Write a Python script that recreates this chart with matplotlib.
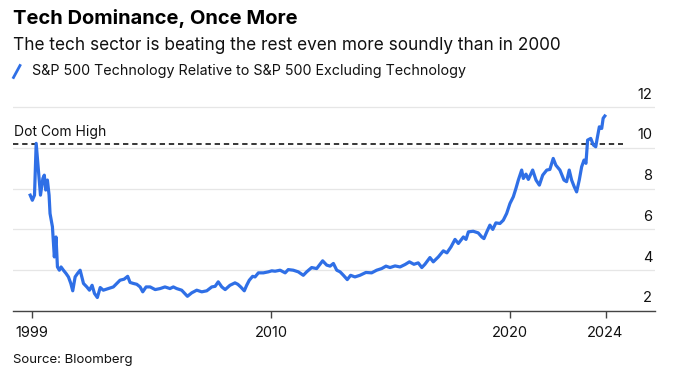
import matplotlib.pyplot as plt
from matplotlib.lines import Line2D
from matplotlib.transforms import ScaledTranslation

plt.rcParams['font.family'] = ['Inter', 'DejaVu Sans']

# decimal years and relative strength ratio
years = [
    1999.92, 2000.01, 2000.10, 2000.17, 2000.24, 2000.35, 2000.45, 2000.51, 2000.57, 2000.64,
    2000.71, 2000.75, 2000.85, 2000.93, 2001.00, 2001.06, 2001.14, 2001.21, 2001.31, 2001.42,
    2001.52, 2001.62, 2001.70, 2001.80, 2001.90, 2002.01, 2002.08, 2002.15, 2002.29, 2002.40,
    2002.51, 2002.61, 2002.73, 2002.85, 2002.98, 2003.19, 2003.40, 2003.68, 2003.85, 2004.00,
    2004.10, 2004.24, 2004.38, 2004.52, 2004.63, 2004.77, 2004.94, 2005.15, 2005.36, 2005.56,
    2005.77, 2005.91, 2006.05, 2006.26, 2006.50, 2006.68, 2006.89, 2007.10, 2007.31, 2007.52,
    2007.66, 2007.79, 2007.94, 2008.08, 2008.28, 2008.49, 2008.61, 2008.73, 2008.88, 2008.98,
    2009.09, 2009.23, 2009.33, 2009.47, 2009.68, 2009.89, 2010.03, 2010.17, 2010.38, 2010.59,
    2010.72, 2010.93, 2011.14, 2011.35, 2011.49, 2011.70, 2011.91, 2012.02, 2012.16, 2012.33,
    2012.47, 2012.61, 2012.75, 2012.89, 2013.03, 2013.19, 2013.33, 2013.51, 2013.72, 2013.97,
    2014.21, 2014.42, 2014.63, 2014.81, 2014.98, 2015.19, 2015.40, 2015.61, 2015.79, 2015.98,
    2016.16, 2016.31, 2016.44, 2016.65, 2016.79, 2017.00, 2017.21, 2017.36, 2017.53, 2017.70,
    2017.84, 2018.05, 2018.16, 2018.26, 2018.46, 2018.67, 2018.82, 2018.91, 2019.03, 2019.16,
    2019.28, 2019.41, 2019.58, 2019.72, 2019.86, 2020.00, 2020.14, 2020.25, 2020.35, 2020.49,
    2020.56, 2020.67, 2020.77, 2020.95, 2021.09, 2021.23, 2021.37, 2021.54, 2021.67, 2021.81,
    2021.92, 2022.09, 2022.26, 2022.37, 2022.48, 2022.58, 2022.69, 2022.79, 2022.90, 2023.00,
    2023.10, 2023.18, 2023.25, 2023.38, 2023.49, 2023.59, 2023.65, 2023.74, 2023.84, 2023.90,
    2023.97,
]
ratio = [
    7.68, 7.43, 7.68, 10.22, 9.24, 7.68, 8.50, 8.66, 7.93, 8.42,
    7.68, 6.78, 6.13, 4.65, 5.63, 4.16, 4.00, 4.16, 4.00, 3.84,
    3.67, 3.35, 2.99, 3.67, 3.84, 4.00, 3.67, 3.35, 3.18, 3.02,
    3.26, 2.86, 2.66, 3.15, 3.02, 3.10, 3.18, 3.51, 3.56, 3.70,
    3.40, 3.35, 3.31, 3.18, 2.94, 3.18, 3.18, 3.05, 3.10, 3.18,
    3.10, 3.18, 3.10, 3.02, 2.72, 2.89, 3.02, 2.94, 2.99, 3.18,
    3.21, 3.43, 3.18, 3.05, 3.26, 3.38, 3.31, 3.18, 2.99, 3.26,
    3.51, 3.70, 3.67, 3.87, 3.87, 3.92, 3.97, 3.95, 4.00, 3.87,
    4.03, 4.00, 3.92, 3.75, 3.92, 4.13, 4.08, 4.25, 4.46, 4.25,
    4.20, 4.33, 4.00, 3.92, 3.75, 3.54, 3.75, 3.67, 3.75, 3.89,
    3.87, 4.00, 4.08, 4.20, 4.13, 4.21, 4.16, 4.28, 4.41, 4.29,
    4.36, 4.13, 4.29, 4.62, 4.41, 4.65, 4.95, 4.85, 5.14, 5.51,
    5.31, 5.63, 5.51, 5.88, 5.91, 5.83, 5.63, 5.55, 5.88, 6.21,
    6.00, 6.32, 6.29, 6.45, 6.78, 7.27, 7.60, 8.01, 8.42, 8.91,
    8.50, 8.71, 8.45, 8.91, 8.42, 8.17, 8.66, 8.91, 8.94, 9.48,
    9.15, 8.91, 8.42, 8.34, 8.91, 8.42, 8.09, 7.84, 8.42, 9.07,
    9.40, 9.24, 10.38, 10.46, 10.14, 10.05, 10.46, 11.03, 10.95, 11.45,
    11.56,
]
dot_com_high = 10.2

x_ticks = [1999.99, 2010, 2020, 2024]
x_labels = ['1999', '2010', '2020', '2024']
y_ticks = [2, 4, 6, 8, 10, 12]

blue = '#2f6fe6'

fig = plt.figure(figsize=(6.8, 3.84), dpi=100)
ax = fig.add_axes([13 / 680, 1 - 311 / 384, 642 / 680, 226 / 384])

ax.plot(years, ratio, color=blue, lw=2.3, solid_joinstyle='round', zorder=3)
ax.axhline(dot_com_high, xmin=0, xmax=0.95, color='black', lw=1.1,
           linestyle=(0, (3.5, 2.5)), zorder=2)
ax.text(1999.25, dot_com_high + 0.25, 'Dot Com High', fontsize=10,
        va='bottom', ha='left', color='#111111')

ax.set_xlim(1999.2, 2026.07)
ax.set_ylim(2.0, 13.08)

ax.set_xticks(x_ticks)
ax.set_xticklabels(x_labels)
ax.set_yticks(y_ticks)
ax.yaxis.tick_right()
ax.grid(axis='y', color='#e6e6e6', lw=0.9)
ax.set_axisbelow(True)

for s in ['top', 'left', 'right']:
    ax.spines[s].set_visible(False)
ax.spines['bottom'].set_color('#444444')
ax.spines['bottom'].set_linewidth(1.0)

ax.tick_params(axis='x', length=5, width=1.0, color='#444444', pad=6,
               labelsize=10.5, labelcolor='#111111')
ax.tick_params(axis='y', length=0, pad=-2, labelsize=10.5, labelcolor='#111111')
for lab in ax.get_yticklabels():
    lab.set_horizontalalignment('right')
    lab.set_transform(lab.get_transform() + ScaledTranslation(0, 14 / 100, fig.dpi_scale_trans))

fig.text(13 / 680, 1 - 19 / 384, 'Tech Dominance, Once More', fontsize=14.5,
         fontweight='bold', va='center', ha='left', color='black')
fig.text(13 / 680, 1 - 46 / 384,
         'The tech sector is beating the rest even more soundly than in 2000',
         fontsize=12.4, va='center', ha='left', color='#111111')
fig.add_artist(Line2D([13.5 / 680, 20 / 680], [1 - 77.5 / 384, 1 - 65.5 / 384],
                      transform=fig.transFigure, color=blue, lw=2.0))
fig.text(32 / 680, 1 - 71.5 / 384,
         'S&P 500 Technology Relative to S&P 500 Excluding Technology',
         fontsize=10.3, va='center', ha='left', color='#111111')
fig.text(13 / 680, 1 - 360.5 / 384, 'Source: Bloomberg', fontsize=9.5,
         va='center', ha='left', color='#111111')

fig.savefig('out.png', dpi=100, facecolor='white')
